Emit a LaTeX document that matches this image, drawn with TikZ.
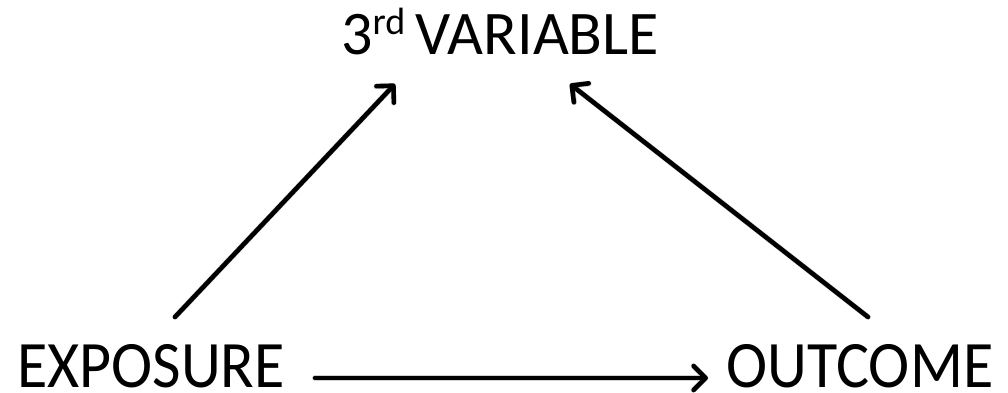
\documentclass[tikz,border=0pt]{standalone}
\usepackage{fontspec}
\usepackage{graphicx}
\setmainfont{Carlito}
\usetikzlibrary{arrows.meta,calc}
\newcommand{\supr}[1]{\raisebox{20pt}{\fontsize{38}{38}\selectfont #1}}
\begin{document}
\begin{tikzpicture}[x=1pt,y=-1pt,
  lbl/.style={inner sep=0pt,anchor=base,font=\fontsize{62}{62}\selectfont},
  arr/.style={line width=4.6pt,line cap=round,line join=round,
    -{Straight Barb[length=12pt,width=24pt,line width=4.6pt,round]}},
  shadowline/.style={line width=5.5pt,line cap=round,draw=black!18,
    -{Straight Barb[length=12pt,width=24pt,line width=5.5pt,round]}}]
\useasboundingbox (0,0) rectangle (1008,393);
\node[lbl] (third) at (500,55) {3\supr{rd}\,VARIABLE};
\node[lbl] (expo) at (151,387) {\scalebox{1}[1.07]{EXPOSURE}};
\node[lbl] (outc) at (860,387) {\scalebox{1}[1.07]{OUTCOME}};
% soft shadows
\begin{scope}[shift={(2,2)}]
\draw[shadowline] ($(expo.base)+(24,-70)$) -- ($(third.base)+(-105,29)$);
\draw[shadowline] ($(outc.base)+(8,-70)$) -- ($(third.base)+(70,29)$);
\draw[shadowline] ($(expo.base)+(164,-9)$) -- ($(outc.base)+(-152,-9)$);
\end{scope}
\draw[arr] ($(expo.base)+(24,-70)$) -- ($(third.base)+(-105,29)$);
\draw[arr] ($(outc.base)+(8,-70)$) -- ($(third.base)+(70,29)$);
\draw[arr] ($(expo.base)+(164,-9)$) -- ($(outc.base)+(-152,-9)$);
\end{tikzpicture}
\end{document}
